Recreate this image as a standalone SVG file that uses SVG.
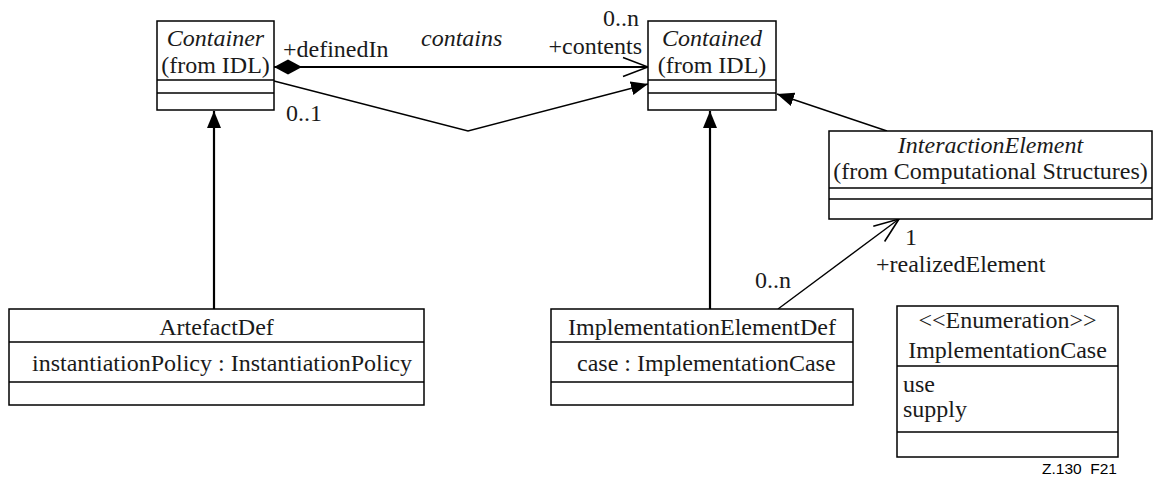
<svg xmlns="http://www.w3.org/2000/svg" width="1153" height="479" viewBox="0 0 1153 479">
  <style>
    .box { fill: #ffffff; stroke: #000000; stroke-width: 1.5; }
    .sep { stroke: #000000; stroke-width: 1.5; }
    .t { font-family: "Liberation Serif", "Times New Roman", serif; font-size: 24px; fill: #1a1a1a; }
    .it { font-style: italic; }
    .mid { text-anchor: middle; }
    .end { text-anchor: end; }
    .thick { stroke: #000000; stroke-width: 2.2; fill: none; }
    .thin { stroke: #000000; stroke-width: 1.4; fill: none; }
    .tag { font-family: "Liberation Sans", Arial, sans-serif; font-size: 15.5px; fill: #000000; }
  </style>
  <defs>
    <!-- filled triangle: generalization -->
    <marker id="gen" markerUnits="userSpaceOnUse" viewBox="0 -8 18 16" markerWidth="18" markerHeight="16" refX="17" refY="0" orient="auto">
      <path d="M0,-7 L17,0 L0,7 Z" fill="#000000"/>
    </marker>
    <!-- open arrow: navigable association end -->
    <marker id="open" markerUnits="userSpaceOnUse" viewBox="-1 -11 28 22" markerWidth="28" markerHeight="22" refX="25" refY="0" orient="auto">
      <path d="M0,-9.5 L25,0 L0,9.5" fill="none" stroke="#000000" stroke-width="1.6"/>
    </marker>
    <!-- filled diamond: composition -->
    <marker id="diamond" markerUnits="userSpaceOnUse" viewBox="0 -8 30 16" markerWidth="30" markerHeight="16" refX="0" refY="0" orient="auto">
      <path d="M0,0 L14,-7.5 L28,0 L14,7.5 Z" fill="#000000"/>
    </marker>
  </defs>

  <!-- connectors -->
  <g id="connectors">
    <line class="thick" x1="274" y1="67" x2="648" y2="67" marker-start="url(#diamond)" marker-end="url(#open)"/>
    <polyline class="thin" points="274,81 468,131 648,84" marker-end="url(#gen)"/>
    <line class="thick" x1="214" y1="309" x2="214" y2="111" marker-end="url(#gen)"/>
    <line class="thick" x1="710" y1="309" x2="710" y2="111" marker-end="url(#gen)"/>
    <line class="thin" x1="887" y1="131" x2="777" y2="94" marker-end="url(#gen)"/>
    <line class="thin" x1="778" y1="309" x2="899" y2="219" marker-end="url(#open)"/>

    <text class="t" x="283" y="57">+definedIn</text>
    <text class="t it" x="421" y="46">contains</text>
    <text class="t end" x="639" y="26">0..n</text>
    <text class="t end" x="642" y="54">+contents</text>
    <text class="t" x="286" y="121">0..1</text>
    <text class="t" x="905" y="245">1</text>
    <text class="t" x="876" y="272">+realizedElement</text>
    <text class="t" x="755" y="288">0..n</text>
  </g>

  <g id="Container">
    <rect class="box" x="157" y="21" width="117" height="89"/>
    <line class="sep" x1="157" y1="80" x2="274" y2="80"/>
    <line class="sep" x1="157" y1="93" x2="274" y2="93"/>
    <text class="t it mid" x="215.5" y="46">Container</text>
    <text class="t mid" x="215.5" y="73">(from IDL)</text>
  </g>

  <g id="Contained">
    <rect class="box" x="648" y="21" width="128" height="89"/>
    <line class="sep" x1="648" y1="80" x2="776" y2="80"/>
    <line class="sep" x1="648" y1="93" x2="776" y2="93"/>
    <text class="t it mid" x="712" y="46">Contained</text>
    <text class="t mid" x="712" y="73">(from IDL)</text>
  </g>

  <g id="InteractionElement">
    <rect class="box" x="829" y="131" width="323" height="88"/>
    <line class="sep" x1="829" y1="188" x2="1152" y2="188"/>
    <line class="sep" x1="829" y1="199" x2="1152" y2="199"/>
    <text class="t it mid" x="990.5" y="153">InteractionElement</text>
    <text class="t mid" x="990.5" y="179">(from Computational Structures)</text>
  </g>

  <g id="ArtefactDef">
    <rect class="box" x="9" y="309" width="415" height="96"/>
    <line class="sep" x1="9" y1="342" x2="424" y2="342"/>
    <line class="sep" x1="9" y1="382" x2="424" y2="382"/>
    <text class="t mid" x="216.5" y="335">ArtefactDef</text>
    <text class="t" x="32" y="371">instantiationPolicy : InstantiationPolicy</text>
  </g>

  <g id="ImplementationElementDef">
    <rect class="box" x="551" y="309" width="302" height="96"/>
    <line class="sep" x1="551" y1="342" x2="853" y2="342"/>
    <line class="sep" x1="551" y1="382" x2="853" y2="382"/>
    <text class="t mid" x="702" y="335">ImplementationElementDef</text>
    <text class="t" x="577" y="371">case : ImplementationCase</text>
  </g>

  <g id="ImplementationCase">
    <rect class="box" x="897" y="306" width="221" height="151"/>
    <line class="sep" x1="897" y1="366" x2="1118" y2="366"/>
    <line class="sep" x1="897" y1="432" x2="1118" y2="432"/>
    <text class="t mid" x="1007.5" y="328">&lt;&lt;Enumeration&gt;&gt;</text>
    <text class="t mid" x="1007.5" y="358">ImplementationCase</text>
    <text class="t" x="903" y="392">use</text>
    <text class="t" x="903" y="417">supply</text>
  </g>

  <text class="tag" x="1117" y="474" text-anchor="end" xml:space="preserve">Z.130  F21</text>
</svg>
